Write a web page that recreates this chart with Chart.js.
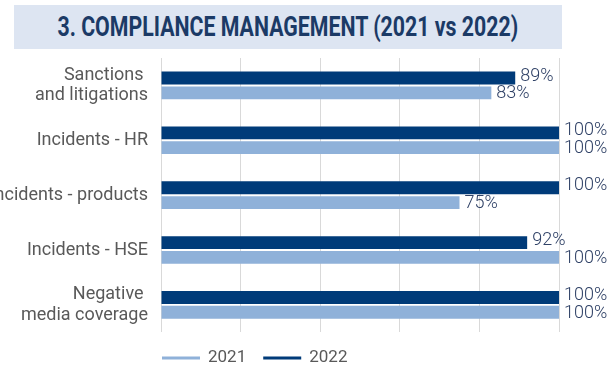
<!DOCTYPE html>
<html>
<head>
<meta charset="utf-8">
<script src="https://cdn.jsdelivr.net/npm/chart.js@4"></script>
<style>
  body { margin: 0; background: #fff; }
  #wrap { position: relative; width: 609px; height: 366px; }
  #title {
    position: absolute; left: 14px; top: 5px; width: 548px; height: 44px;
    background: #dde5f2; display: flex; align-items: center; justify-content: center;
  }
  #title span {
    display: inline-block; font-family: Roboto, sans-serif; font-weight: 700;
    font-size: 27px; color: #1b3a66; white-space: nowrap; transform-origin: center;
  }
  canvas { position: absolute; left: 0; top: 0; }
</style>
</head>
<body>
<div id="wrap">
  <canvas id="myChart" width="609" height="366"></canvas>
  <div id="title"><span id="titleText">3. COMPLIANCE MANAGEMENT (2021 vs 2022)</span></div>
</div>
<script>
const categories = [
  ["Sanctions ", "and litigations"],
  "Incidents - HR",
  "Incidents - products",
  "Incidents - HSE",
  ["Negative ", "media coverage"]
];
const values2021 = [0.83, 1.00, 0.75, 1.00, 1.00];
const values2022 = [0.89, 1.00, 1.00, 0.92, 1.00];
const xTicks = [0, 0.2, 0.4, 0.6, 0.8, 1.0];

// squeeze the title into a condensed look
const t = document.getElementById("titleText");
t.style.transform = "scaleX(" + (461 / t.offsetWidth) + ")";

const labelFont = "300 18px Roboto";

const barLabels = {
  id: "barLabels",
  afterDatasetsDraw(chart) {
    const ctx = chart.ctx;
    ctx.save();
    ctx.font = labelFont;
    ctx.fillStyle = "#2f4166";
    ctx.textBaseline = "middle";
    chart.data.datasets.forEach((ds, i) => {
      const shift = i === 0 ? -2 : 1;
      chart.getDatasetMeta(i).data.forEach((bar, j) => {
        ctx.fillText(Math.round(ds.data[j] * 100) + "%", bar.x + 5, bar.y + shift);
      });
    });
    ctx.restore();
  }
};

// legend drawn by hand so it can start at the plot's left edge
const lineLegend = {
  id: "lineLegend",
  afterDraw(chart) {
    const ctx = chart.ctx;
    const y = 358;
    let x = chart.chartArea.left + 1;
    ctx.save();
    ctx.font = "17px Roboto";
    ctx.textBaseline = "middle";
    chart.data.datasets.slice().reverse().forEach(ds => {
      ctx.strokeStyle = ds.backgroundColor;
      ctx.lineWidth = 3;
      ctx.beginPath();
      ctx.moveTo(x, y);
      ctx.lineTo(x + 38, y);
      ctx.stroke();
      ctx.fillStyle = "#595959";
      ctx.fillText(ds.label, x + 46, y);
      x += 46 + ctx.measureText(ds.label).width + 17;
    });
    ctx.restore();
  }
};

new Chart(document.getElementById("myChart"), {
  type: "bar",
  data: {
    labels: categories,
    datasets: [
      { label: "2022", data: values2022, backgroundColor: "#003b79" },
      { label: "2021", data: values2021, backgroundColor: "#8fb1d9" }
    ]
  },
  options: {
    indexAxis: "y",
    responsive: false,
    animation: false,
    categoryPercentage: 0.54,
    barPercentage: 0.867,
    layout: { padding: { top: 58, bottom: 31, left: 0, right: 50 } },
    plugins: {
      legend: { display: false },
      tooltip: { enabled: false }
    },
    scales: {
      x: {
        min: 0,
        max: 1,
        afterBuildTicks: scale => { scale.ticks = xTicks.map(v => ({ value: v })); },
        ticks: { display: false },
        grid: { color: "#d9d9d9", drawTicks: false },
        border: { display: false }
      },
      y: {
        grid: { display: false, drawTicks: false },
        border: { display: false },
        ticks: {
          color: "#595959",
          padding: 13,
          autoSkip: false,
          font: { family: "Roboto", size: 18, lineHeight: 1.15 }
        },
        afterFit: scale => { scale.width = 161; }
      }
    }
  },
  plugins: [barLabels, lineLegend]
});
</script>
</body>
</html>
